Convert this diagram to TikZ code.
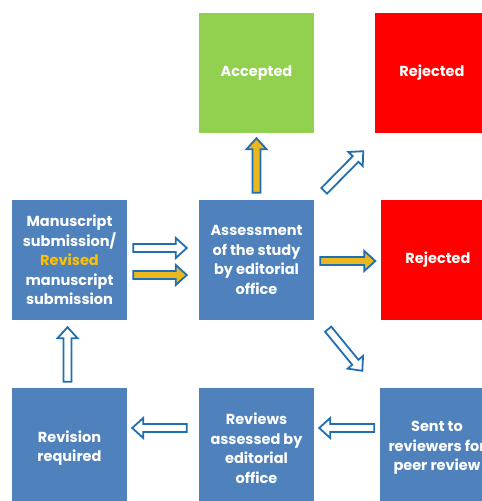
\documentclass[tikz,border=0pt]{standalone}
\usepackage{fontspec}
\setmainfont{Poppins}
\usetikzlibrary{calc}
\definecolor{stageBlue}{HTML}{4F81BD}
\definecolor{acceptGreen}{HTML}{92D050}
\definecolor{rejectRed}{HTML}{FF0000}
\definecolor{arrowBlue}{HTML}{1F6FB2}
\definecolor{revisedGold}{HTML}{FFC000}
\definecolor{arrowGold}{HTML}{EBB71E}
\newcommand{\shaftHalf}[0]{4pt}
\newcommand{\headHalf}[0]{10pt}
\newcommand{\headLength}[0]{11pt}
\newcommand{\blockArrow}[3]{%
  \coordinate (headbase) at ($(#2)!\headLength!(#1)$);
  \draw[flow arrow, fill=#3]
    ($(#1)!\shaftHalf!90:(#2)$) -- ($(headbase)!\shaftHalf!-90:(#1)$)
    -- ($(headbase)!\headHalf!-90:(#1)$) -- (#2)
    -- ($(headbase)!\headHalf!90:(#1)$) -- ($(headbase)!\shaftHalf!90:(#1)$)
    -- ($(#1)!\shaftHalf!-90:(#2)$) -- cycle;
}

\begin{document}
\begin{tikzpicture}[x=1pt, y=-1pt]
  \tikzset{
    stage/.style={fill=stageBlue, text=white, align=center, inner sep=0pt,
      font=\bfseries\fontsize{14.5}{19.5}\selectfont,
      minimum width=115pt, minimum height=120pt},
    flow arrow/.style={draw=arrowBlue, line width=1.8pt, line join=miter}
  }
  \useasboundingbox (0,0) rectangle (482,501);
  \clip (0,0) rectangle (482,501);

  % top row
  \node[stage, fill=acceptGreen] (accepted) at (256.5,73) {Accepted};
  \node[stage, fill=rejectRed] (rejectedTop) at (432,73) {Rejected};
  % middle row
  \node[stage] (manuscript) at (69.5,260)
    {Manuscript\\submission/\\\textcolor{revisedGold}{Revised}\\manuscript\\submission};
  \node[stage] (assessment) at (256.5,260) {Assessment\\of the study\\by editorial\\office};
  \node[stage, fill=rejectRed] (rejectedMid) at (438,260) {Rejected};
  % bottom row
  \node[stage] (revision) at (69.5,448) {Revision\\required};
  \node[stage] (reviews) at (256.5,448) {Reviews\\assessed by\\editorial\\office};
  \node[stage] (sent) at (437,448) {Sent to\\reviewers for\\peer review};

  % arrow ends
  \coordinate (subTail) at ([xshift=6pt,yshift=12pt]manuscript.east);
  \coordinate (subTip) at ([xshift=-12pt,yshift=12pt]assessment.west);
  \coordinate (resubTail) at ([xshift=6pt,yshift=-15pt]manuscript.east);
  \coordinate (resubTip) at ([xshift=-12pt,yshift=-15pt]assessment.west);
  \coordinate (accTail) at ([yshift=7pt]assessment.north);
  \coordinate (accTip) at ([yshift=-5pt]accepted.south);
  \coordinate (rejTopTail) at ([xshift=10pt,yshift=9pt]assessment.north east);
  \coordinate (rejTopTip) at ([xshift=-11pt,yshift=-18pt]rejectedTop.south west);
  \coordinate (rejMidTail) at ([xshift=6pt,yshift=-1pt]assessment.east);
  \coordinate (rejMidTip) at ([xshift=-5pt,yshift=-1pt]rejectedMid.west);
  \coordinate (sentTail) at ([xshift=14pt,yshift=-9pt]assessment.south east);
  \coordinate (sentTip) at ([xshift=-17pt,yshift=17pt]sent.north west);
  \coordinate (backTail) at ([xshift=-5pt,yshift=20pt]sent.west);
  \coordinate (backTip) at ([xshift=5pt,yshift=20pt]reviews.east);
  \coordinate (reviseTail) at ([xshift=-12pt,yshift=20pt]reviews.west);
  \coordinate (reviseTip) at ([xshift=5pt,yshift=20pt]revision.east);
  \coordinate (upTail) at ([xshift=-2pt,yshift=6pt]revision.north);
  \coordinate (upTip) at ([xshift=-2pt,yshift=-7pt]manuscript.south);

  \blockArrow{subTail}{subTip}{white}
  \blockArrow{resubTail}{resubTip}{arrowGold}
  \blockArrow{accTail}{accTip}{arrowGold}
  \blockArrow{rejTopTail}{rejTopTip}{white}
  \blockArrow{rejMidTail}{rejMidTip}{arrowGold}
  \blockArrow{sentTail}{sentTip}{white}
  \blockArrow{backTail}{backTip}{white}
  \blockArrow{reviseTail}{reviseTip}{white}
  \blockArrow{upTail}{upTip}{white}
\end{tikzpicture}
\end{document}
